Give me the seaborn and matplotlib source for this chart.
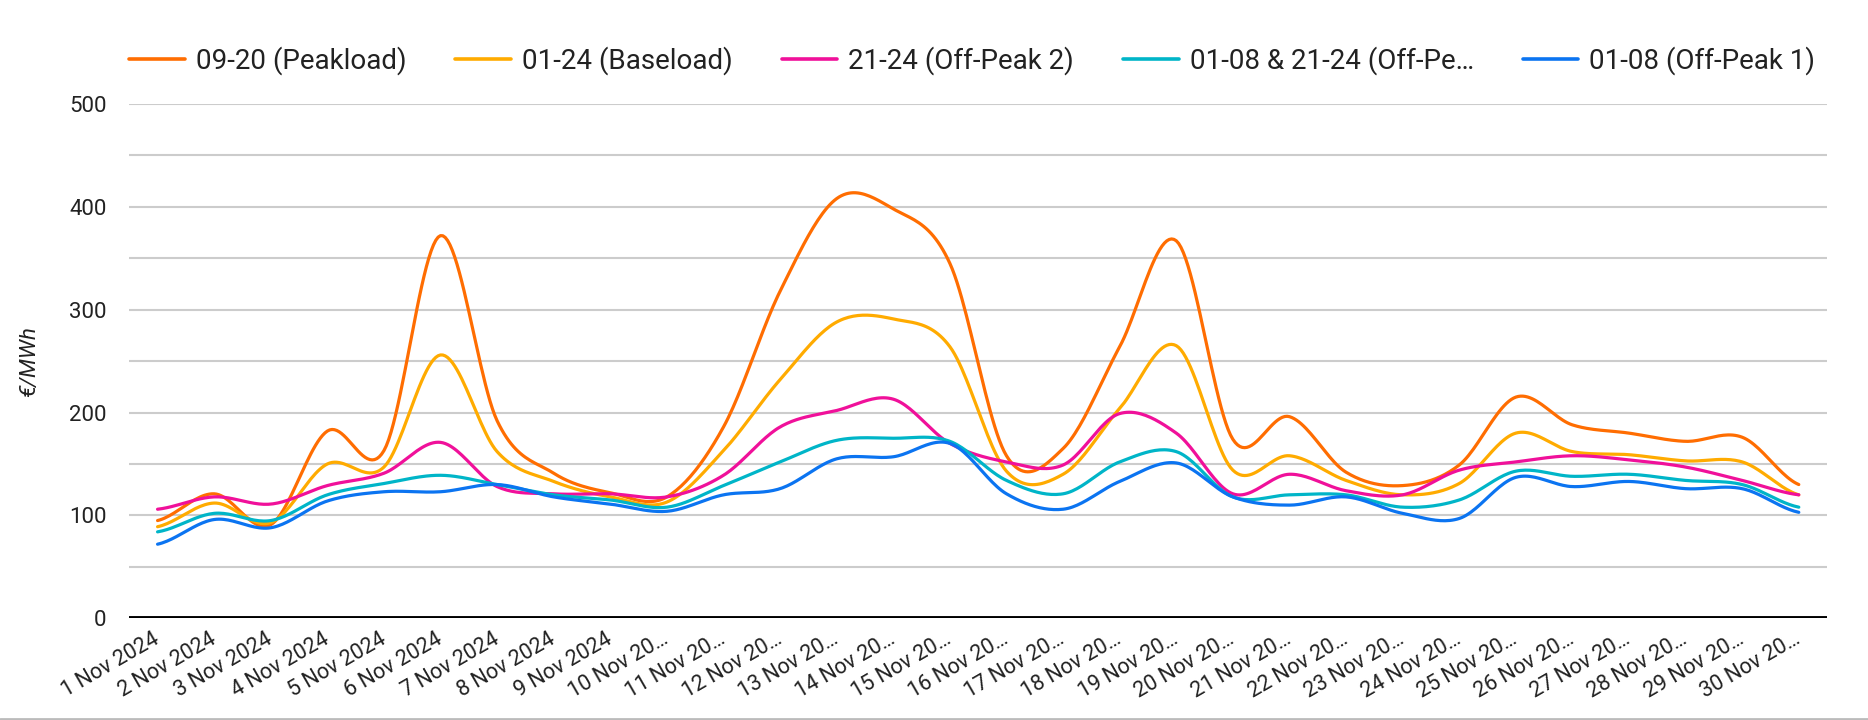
import numpy as np
import pandas as pd
import matplotlib
matplotlib.use("Agg")
import matplotlib.pyplot as plt
from matplotlib.lines import Line2D
import seaborn as sns

# values (EUR/MWh), 1..30 Nov 2024
days = [f"{d} Nov 2024" if d < 10 else f"{d} Nov 20…" for d in range(1, 31)]
peak = [95, 121, 91, 182, 163, 372, 192, 141, 122, 118, 186, 318, 408, 398, 345,
        158, 165, 264, 367, 174, 196, 142, 129, 149, 215, 188, 180, 172, 176, 130]
base = [89, 112, 93, 150, 147, 256, 162, 133, 118, 113, 163, 232, 288, 291, 264,
        143, 140, 204, 265, 144, 158, 134, 120, 131, 180, 162, 159, 153, 152, 120]
offpeak2 = [106, 118, 111, 129, 141, 171, 128, 121, 121, 118, 139, 186, 202, 213, 170,
            152, 149, 199, 180, 121, 140, 124, 120, 144, 152, 158, 154, 147, 134, 120]
offpeak = [84, 102, 95, 120, 131, 139, 130, 120, 115, 108, 129, 152, 173, 175, 172,
           134, 121, 152, 162, 118, 120, 120, 108, 115, 143, 138, 140, 134, 130, 108]
offpeak1 = [72, 96, 88, 114, 123, 123, 130, 118, 111, 104, 120, 126, 155, 157, 170,
            121, 106, 133, 151, 118, 110, 118, 102, 97, 137, 128, 133, 126, 126, 103]

names = ["09-20 (Peakload)", "01-24 (Baseload)", "21-24 (Off-Peak 2)",
         "01-08 & 21-24 (Off-Pe…", "01-08 (Off-Peak 1)"]
series = [peak, base, offpeak2, offpeak, offpeak1]
colors = ["#ff6d01", "#ffab00", "#f0109a", "#00b5c8", "#0b74f1"]


def smooth(y, n=24):
    # catmull-rom, like the "function" curve of the original chart
    y = np.asarray(y, float)
    p = np.concatenate([[y[0]], y, [y[-1]]])
    t = np.linspace(0, 1, n, endpoint=False)
    xs, ys = [], []
    for i in range(len(y) - 1):
        p0, p1, p2, p3 = p[i], p[i + 1], p[i + 2], p[i + 3]
        v = 0.5 * (2 * p1 + (-p0 + p2) * t + (2 * p0 - 5 * p1 + 4 * p2 - p3) * t ** 2
                   + (-p0 + 3 * p1 - 3 * p2 + p3) * t ** 3)
        xs.append(i + t)
        ys.append(v)
    xs.append([len(y) - 1])
    ys.append([y[-1]])
    return np.concatenate(xs), np.concatenate(ys)


sns.set_theme(style="white")
plt.rcParams["font.family"] = ["Roboto", "DejaVu Sans"]

fig = plt.figure(figsize=(18.68, 7.2), dpi=100)
ax = fig.add_axes([0.0692, 0.1413, 0.9089, 0.7143])

for name, vals, col in zip(names, series, colors):
    xs, ys = smooth(vals)
    sns.lineplot(x=xs, y=ys, color=col, lw=2.3, ax=ax, sort=False, estimator=None)

ax.set_xlim(-0.5, len(days) - 0.5)
ax.set_ylim(0, 500)
ax.set_yticks(range(0, 501, 100))
ax.set_yticks(range(50, 501, 100), minor=True)
ax.grid(True, which="both", axis="y", color="#cccccc", lw=1.5)
ax.grid(False, axis="x")
ax.set_axisbelow(True)
ax.axhline(0, color="black", lw=2.8, zorder=1.5)
for s in ax.spines.values():
    s.set_visible(False)

ax.set_xticks(range(len(days)))
ax.set_xticklabels(days, rotation=30, ha="right", va="center", rotation_mode="anchor")
ax.tick_params(axis="x", length=0, pad=14, labelsize=15.5, labelcolor="#222222")
ax.tick_params(axis="y", which="both", length=0, pad=16.5, labelsize=16, labelcolor="#222222")

ax.set_xlabel("")
ax.set_ylabel("€/MWh", fontsize=16, style="italic", color="#222222")
ax.yaxis.label.set_va("center")
ax.yaxis.set_label_coords(-0.0585, 0.5)

handles = [Line2D([], [], color=c, lw=2.6) for c in colors]
fig.legend(handles, names, loc="center left", bbox_to_anchor=(0.0692, 0.9157),
           bbox_transform=fig.transFigure, ncol=5, frameon=False, fontsize=20,
           borderpad=0, borderaxespad=0, handlelength=2.0, handletextpad=0.4,
           columnspacing=1.76, labelcolor="#222222")

fig.add_artist(Line2D([0, 1], [0.002, 0.002], color="#bbbbbb", lw=2, transform=fig.transFigure))

fig.savefig("out.png", dpi=100)
